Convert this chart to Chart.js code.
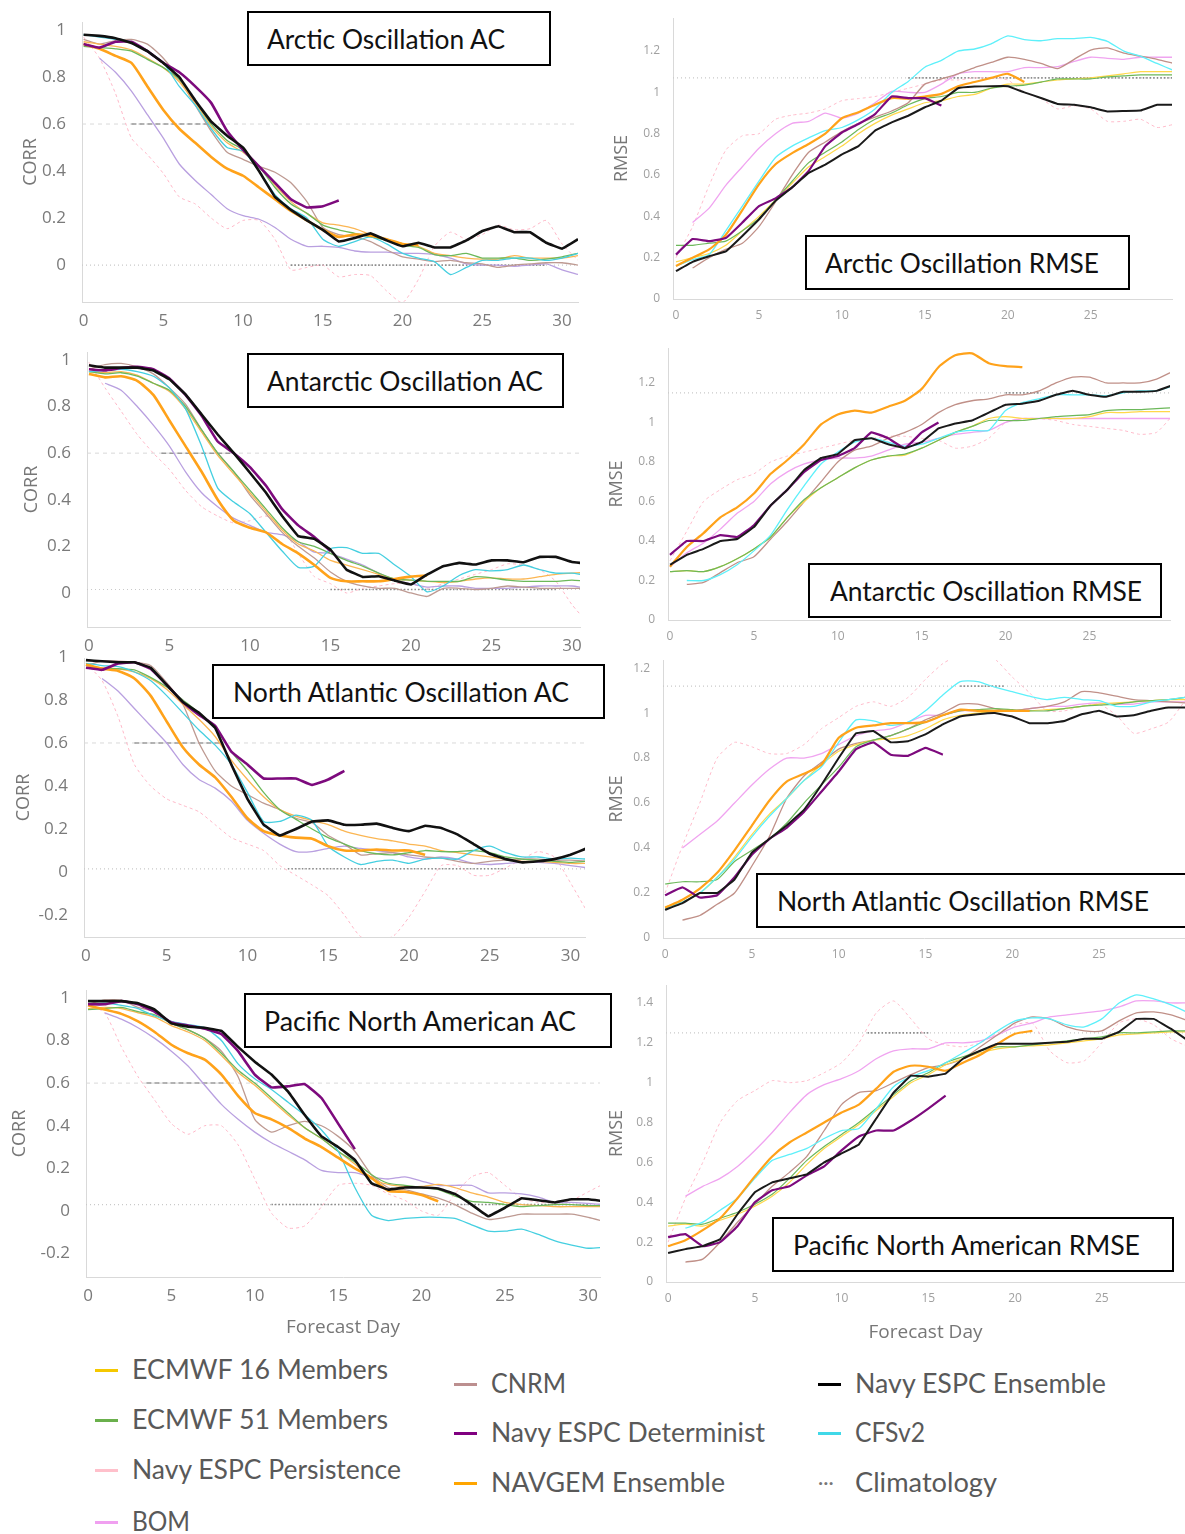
<!DOCTYPE html>
<html>
<head>
<meta charset="utf-8">
<script src="https://cdn.jsdelivr.net/npm/chart.js@4.4.1/dist/chart.umd.min.js"></script>
<style>
  body { margin: 0; background: #fff; width: 1185px; height: 1534px; overflow: hidden; position: relative; font-family: Lato, sans-serif; }
  canvas { position: absolute; }
  .tbox { position: absolute; border: 2px solid #000; background: #fff; box-sizing: border-box; z-index: 5; overflow: hidden; }
  .tbox span { position: absolute; top: 50%; font-size: 26px; color: #111; white-space: nowrap; transform-origin: left center; line-height: 1; margin-top: -13px; }
  .leg { position: absolute; font-size: 26px; color: #595959; white-space: nowrap; line-height: 1; margin-top: -14px; transform-origin: left center; }
  .mark { position: absolute; width: 23px; height: 3px; }
  .dots { position: absolute; font-size: 20px; color: #777; line-height: 1; }
</style>
</head>
<body>
<script>
// forecast days
const acDays = [0,1,2,3,4,5,6,7,8,9,10,11,12,13,14,15,16,17,18,19,20,21,22,23,24,25,26,27,28,29,30,31];
const rmDays = [0,1,2,3,4,5,6,7,8,9,10,11,12,13,14,15,16,17,18,19,20,21,22,23,24,25,26,27,28,29,30];
const acXTicks = [0,5,10,15,20,25,30];
const rmXTicks = [0,5,10,15,20,25];
const acYTicks = [0,0.2,0.4,0.6,0.8,1];
const acYTicksNeg = [-0.2,0,0.2,0.4,0.6,0.8,1];
const rmYTicks = [0,0.2,0.4,0.6,0.8,1,1.2];
const rmYTicksHi = [0,0.2,0.4,0.6,0.8,1,1.2,1.4];
const acSkill = 0.6;

// ---- Arctic Oscillation AC ----
const aoAcEns = [0.98,0.975,0.965,0.945,0.91,0.86,0.80,0.70,0.61,0.55,0.50,0.40,0.29,0.235,0.19,0.15,0.10,0.115,0.135,0.105,0.08,0.095,0.075,0.075,0.105,0.145,0.165,0.14,0.14,0.095,0.07,0.11];
const aoAcDet = [0.94,0.925,0.95,0.95,0.91,0.86,0.82,0.76,0.69,0.57,0.49,0.42,0.35,0.28,0.245,0.25,0.275];
const aoAcNavgem = [0.94,0.92,0.89,0.86,0.76,0.66,0.58,0.52,0.46,0.41,0.38,0.33,0.28,0.23,0.19,0.15,0.12,0.13,0.125,0.11,0.09,0.085];
const aoAcE16 = [0.95,0.94,0.93,0.915,0.88,0.84,0.78,0.69,0.59,0.52,0.48,0.42,0.34,0.27,0.22,0.18,0.17,0.155,0.13,0.11,0.09,0.08,0.05,0.04,0.03,0.025,0.025,0.04,0.03,0.03,0.03,0.04];
const aoAcE51 = [0.93,0.925,0.92,0.91,0.875,0.84,0.79,0.70,0.60,0.53,0.49,0.42,0.33,0.26,0.22,0.17,0.15,0.135,0.12,0.105,0.085,0.075,0.045,0.04,0.05,0.03,0.03,0.03,0.02,0.025,0.035,0.05];
const aoAcCfs = [0.98,0.97,0.96,0.95,0.91,0.86,0.76,0.68,0.58,0.50,0.485,0.40,0.30,0.24,0.20,0.11,0.08,0.10,0.12,0.09,0.05,0.03,0.015,-0.04,-0.01,0.02,0.02,0.03,0.03,0.02,0.03,0.05];
const aoAcCnrm = [0.96,0.94,0.955,0.96,0.94,0.88,0.79,0.68,0.57,0.48,0.45,0.42,0.395,0.35,0.27,0.16,0.13,0.12,0.10,0.065,0.035,0.025,0.015,0.02,0.01,0.005,-0.01,0.0,0.005,0.01,0.01,0.0];
const aoAcBom = [null,0.88,0.82,0.74,0.64,0.54,0.43,0.36,0.30,0.24,0.21,0.195,0.16,0.11,0.08,0.08,0.075,0.06,0.055,0.055,0.05,0.05,0.045,0.03,0.005,0.0,0.0,-0.005,0.0,0.005,-0.02,-0.04];
const aoAcPers = [0.97,0.88,0.73,0.54,0.47,0.39,0.29,0.26,0.20,0.155,0.19,0.19,0.11,-0.02,-0.01,0.0,-0.05,-0.04,-0.045,-0.11,-0.16,-0.06,0.08,0.14,0.11,0.13,0.17,0.15,0.155,0.19,0.09,0.02];
const aoAcClim = 0.0;
const aoAcClimDark = [13, 29];
const aoAcSkillDark = [3, 8];

// ---- Arctic Oscillation RMSE ----
const aoRmEns = [0.135,0.18,0.207,0.23,0.305,0.385,0.475,0.54,0.61,0.65,0.70,0.74,0.815,0.855,0.887,0.928,0.96,1.02,1.028,1.03,1.03,1.0,0.973,0.944,0.94,0.928,0.908,0.91,0.912,0.94,0.94];
const aoRmDet = [0.215,0.29,0.28,0.295,0.37,0.45,0.487,0.54,0.62,0.74,0.806,0.847,0.895,0.98,0.972,0.972,0.936];
const aoRmNavgem = [0.16,0.2,0.24,0.31,0.43,0.555,0.652,0.706,0.75,0.8,0.875,0.904,0.94,0.972,0.97,0.98,0.993,1.03,1.05,1.07,1.09,1.05];
const aoRmE16 = [0.18,0.2,0.22,0.26,0.33,0.4,0.48,0.56,0.64,0.69,0.74,0.8,0.85,0.89,0.92,0.95,0.96,0.98,0.99,1.02,1.04,1.04,1.05,1.06,1.065,1.07,1.08,1.09,1.1,1.1,1.1];
const aoRmE51 = [0.26,0.26,0.27,0.28,0.33,0.39,0.48,0.57,0.66,0.71,0.76,0.82,0.87,0.9,0.94,0.97,0.98,1.0,1.0,1.02,1.03,1.035,1.05,1.065,1.065,1.065,1.075,1.08,1.085,1.085,1.085];
const aoRmCfs = [0.16,0.19,0.215,0.33,0.45,0.57,0.685,0.74,0.78,0.815,0.83,0.868,0.92,1.0,1.053,1.122,1.155,1.2,1.21,1.235,1.273,1.255,1.25,1.26,1.26,1.266,1.247,1.2,1.175,1.14,1.106];
const aoRmCnrm = [null,0.15,0.2,0.24,0.27,0.35,0.47,0.6,0.71,0.76,0.81,0.85,0.88,0.91,0.95,1.04,1.065,1.09,1.12,1.145,1.17,1.16,1.14,1.115,1.16,1.205,1.215,1.19,1.175,1.16,1.14];
const aoRmBom = [null,0.37,0.44,0.55,0.64,0.73,0.8,0.85,0.86,0.9,0.875,0.9,0.95,1.005,1.0,1.0,1.04,1.09,1.1,1.1,1.1,1.12,1.12,1.125,1.15,1.17,1.165,1.16,1.17,1.17,1.17];
const aoRmPers = [0.2,0.35,0.55,0.72,0.79,0.8,0.87,0.89,0.9,0.92,0.96,0.97,0.98,1.0,1.02,1.04,1.06,1.06,1.07,1.07,1.06,1.0,0.97,0.92,0.935,0.92,0.86,0.86,0.87,0.83,0.845];
const aoRmClim = 1.07;
const aoRmClimDark = [14, 30];

// ---- Antarctic Oscillation AC ----
const aaoAcEns = [0.977,0.967,0.967,0.967,0.955,0.917,0.852,0.766,0.68,0.60,0.516,0.43,0.33,0.244,0.232,0.186,0.10,0.069,0.072,0.053,0.036,0.079,0.115,0.129,0.122,0.14,0.14,0.132,0.155,0.155,0.133,0.126];
const aaoAcDet = [0.96,0.955,0.965,0.97,0.96,0.92,0.85,0.76,0.65,0.60,0.54,0.46,0.36,0.29,0.24,0.18];
const aaoAcNavgem = [0.94,0.925,0.93,0.91,0.85,0.74,0.63,0.52,0.40,0.31,0.28,0.26,0.21,0.17,0.12,0.065,0.05,0.05,0.05,0.06,0.07,0.075];
const aaoAcE16 = [0.95,0.945,0.95,0.935,0.9,0.865,0.79,0.69,0.59,0.51,0.43,0.35,0.27,0.21,0.18,0.14,0.12,0.1,0.08,0.06,0.055,0.05,0.045,0.05,0.06,0.065,0.06,0.06,0.07,0.08,0.085,0.09];
const aaoAcE51 = [0.95,0.94,0.945,0.93,0.9,0.87,0.8,0.7,0.6,0.52,0.44,0.36,0.28,0.22,0.2,0.17,0.14,0.115,0.085,0.06,0.055,0.05,0.05,0.05,0.07,0.065,0.055,0.05,0.05,0.05,0.055,0.05];
const aaoAcCfs = [0.95,0.955,0.96,0.95,0.93,0.88,0.79,0.63,0.45,0.39,0.34,0.26,0.18,0.11,0.115,0.19,0.195,0.17,0.17,0.12,0.07,0.005,0.03,0.075,0.1,0.095,0.1,0.12,0.1,0.085,0.085,0.075];
const aaoAcCnrm = [0.96,0.98,0.985,0.97,0.94,0.88,0.81,0.7,0.6,0.52,0.42,0.34,0.26,0.2,0.15,0.09,0.05,0.03,0.02,0.02,0.0,-0.015,0.02,0.02,0.015,0.02,0.03,0.025,0.02,0.02,0.02,0.02];
const aaoAcBom = [null,0.9,0.87,0.8,0.72,0.63,0.52,0.43,0.37,0.32,0.29,0.26,0.25,0.22,0.175,0.17,0.145,0.12,0.085,0.055,0.04,0.025,0.03,0.03,0.02,0.02,0.02,0.025,0.03,0.03,0.03,0.02];
const aaoAcPers = [0.99,0.88,0.78,0.68,0.6,0.53,0.44,0.37,0.33,0.3,0.31,0.33,0.28,0.17,0.07,0.04,0.0,0.02,0.03,0.04,0.04,0.02,0.04,0.06,0.08,0.1,0.125,0.12,0.1,0.05,-0.05,-0.13];
const aaoAcClim = 0.015;
const aaoAcClimDark = [15, 29];
const aaoAcSkillDark = [4.5, 9];

// ---- Antarctic Oscillation RMSE ----
const aaoRmEns = [0.28,0.33,0.36,0.4,0.41,0.47,0.58,0.66,0.76,0.82,0.84,0.91,0.92,0.89,0.87,0.9,0.97,0.995,1.01,1.05,1.09,1.095,1.11,1.14,1.16,1.14,1.13,1.155,1.155,1.16,1.19];
const aaoRmDet = [0.33,0.4,0.4,0.43,0.42,0.48,0.58,0.66,0.75,0.81,0.83,0.87,0.95,0.92,0.87,0.95,1.0];
const aaoRmNavgem = [0.27,0.37,0.44,0.52,0.57,0.64,0.74,0.81,0.89,0.99,1.04,1.06,1.05,1.08,1.11,1.17,1.28,1.34,1.35,1.3,1.285,1.28];
const aaoRmE16 = [0.245,0.25,0.245,0.27,0.31,0.36,0.42,0.52,0.6,0.67,0.72,0.77,0.81,0.83,0.835,0.87,0.91,0.95,0.98,1.02,1.03,1.02,1.02,1.02,1.02,1.03,1.05,1.05,1.055,1.055,1.055];
const aaoRmE51 = [0.245,0.25,0.245,0.27,0.31,0.36,0.42,0.52,0.61,0.67,0.72,0.77,0.81,0.83,0.84,0.87,0.91,0.95,0.98,1.01,1.01,1.01,1.02,1.03,1.035,1.04,1.06,1.065,1.065,1.07,1.075];
const aaoRmCfs = [null,0.2,0.2,0.23,0.28,0.35,0.43,0.56,0.68,0.79,0.85,0.9,0.92,0.9,0.88,0.89,0.92,0.95,0.96,0.96,1.06,1.1,1.12,1.14,1.14,1.14,1.135,1.15,1.16,1.16,1.185];
const aaoRmCnrm = [null,0.18,0.19,0.24,0.29,0.32,0.41,0.5,0.6,0.7,0.8,0.86,0.88,0.92,0.95,0.99,1.05,1.09,1.11,1.12,1.14,1.14,1.16,1.2,1.23,1.23,1.2,1.2,1.2,1.22,1.26];
const aaoRmBom = [0.27,0.34,0.39,0.46,0.54,0.6,0.69,0.75,0.79,0.81,0.82,0.82,0.83,0.86,0.89,0.9,0.92,0.94,0.95,0.96,1.0,1.02,1.02,1.02,1.02,1.02,1.02,1.02,1.02,1.02,1.02];
const aaoRmPers = [0.3,0.45,0.6,0.66,0.71,0.74,0.8,0.83,0.85,0.87,0.89,0.91,0.92,0.93,0.93,0.92,0.91,0.87,0.88,0.92,1.0,1.02,1.02,1.01,0.99,0.98,0.97,0.96,0.94,0.95,1.04];
const aaoRmClim = 1.15;
const aaoRmClimDark = [20, 22];

// ---- North Atlantic Oscillation AC ----
const naoAcEns = [0.985,0.98,0.975,0.975,0.95,0.87,0.79,0.74,0.67,0.5,0.34,0.22,0.17,0.2,0.235,0.24,0.22,0.22,0.225,0.205,0.19,0.215,0.205,0.175,0.13,0.085,0.06,0.045,0.05,0.06,0.08,0.11];
const naoAcDet = [0.95,0.94,0.97,0.975,0.945,0.87,0.79,0.73,0.68,0.56,0.5,0.435,0.435,0.435,0.405,0.43,0.47];
const naoAcNavgem = [0.965,0.945,0.935,0.9,0.82,0.7,0.58,0.5,0.44,0.35,0.25,0.19,0.17,0.16,0.155,0.12,0.1,0.1,0.105,0.1,0.1,0.08];
const naoAcE16 = [0.96,0.95,0.945,0.93,0.9,0.85,0.78,0.71,0.63,0.52,0.43,0.35,0.29,0.26,0.24,0.22,0.19,0.17,0.155,0.145,0.13,0.12,0.1,0.09,0.08,0.07,0.06,0.05,0.05,0.045,0.04,0.04];
const naoAcE51 = [0.95,0.945,0.945,0.94,0.905,0.86,0.8,0.74,0.67,0.56,0.47,0.37,0.29,0.245,0.2,0.16,0.13,0.1,0.085,0.08,0.09,0.1,0.095,0.095,0.1,0.09,0.07,0.06,0.055,0.05,0.045,0.05];
const naoAcCfs = [0.97,0.96,0.955,0.93,0.89,0.82,0.74,0.66,0.59,0.5,0.37,0.235,0.235,0.265,0.24,0.12,0.07,0.035,0.05,0.055,0.04,0.06,0.065,0.06,0.1,0.12,0.09,0.07,0.07,0.06,0.065,0.06];
const naoAcCnrm = [0.96,0.98,0.98,0.975,0.96,0.88,0.78,0.6,0.47,0.4,0.36,0.32,0.29,0.25,0.23,0.17,0.13,0.08,0.085,0.09,0.08,0.07,0.065,0.05,0.04,0.05,0.055,0.06,0.06,0.055,0.055,0.05];
const naoAcBom = [null,0.9,0.84,0.76,0.68,0.6,0.5,0.43,0.39,0.33,0.24,0.18,0.13,0.095,0.095,0.11,0.12,0.11,0.1,0.09,0.07,0.06,0.07,0.06,0.04,0.035,0.04,0.045,0.045,0.04,0.03,0.02];
const naoAcPers = [0.97,0.89,0.72,0.5,0.4,0.34,0.31,0.28,0.22,0.16,0.13,0.1,0.03,-0.015,-0.06,-0.11,-0.2,-0.3,-0.31,-0.3,-0.21,-0.09,0.03,0.03,-0.015,-0.015,0.02,0.06,0.095,0.07,-0.05,-0.18];
const naoAcClim = 0.015;
const naoAcClimDark = [12.5, 26];
const naoAcSkillDark = [3, 8.5];

// ---- North Atlantic Oscillation RMSE ----
const naoRmEns = [0.125,0.155,0.2,0.2,0.26,0.38,0.44,0.5,0.57,0.68,0.8,0.91,0.92,0.87,0.875,0.905,0.95,0.985,0.995,1.0,0.985,0.955,0.955,0.965,0.995,1.01,0.985,0.99,1.01,1.025,1.025];
const naoRmDet = [0.19,0.225,0.18,0.19,0.27,0.37,0.44,0.49,0.56,0.65,0.74,0.84,0.87,0.815,0.81,0.845,0.815];
const naoRmNavgem = [0.135,0.17,0.22,0.29,0.39,0.5,0.61,0.695,0.73,0.77,0.89,0.935,0.945,0.955,0.955,0.96,0.99,1.015,1.01,1.01,1.01,1.01];
const naoRmE16 = [0.14,0.16,0.2,0.27,0.36,0.46,0.55,0.62,0.7,0.77,0.83,0.86,0.88,0.885,0.9,0.93,0.97,0.99,1.0,1.005,1.01,1.01,1.015,1.02,1.03,1.04,1.045,1.05,1.055,1.06,1.06];
const naoRmE51 = [0.24,0.25,0.25,0.26,0.34,0.39,0.44,0.51,0.6,0.68,0.76,0.85,0.88,0.9,0.93,0.96,0.99,1.01,1.015,1.02,1.015,1.01,1.01,1.02,1.03,1.035,1.04,1.05,1.055,1.06,1.07];
const naoRmCfs = [0.13,0.16,0.2,0.27,0.35,0.45,0.54,0.62,0.7,0.76,0.87,0.97,0.965,0.945,0.96,1.01,1.08,1.14,1.14,1.115,1.095,1.075,1.06,1.07,1.06,1.055,1.03,1.03,1.05,1.06,1.07];
const naoRmCnrm = [null,0.08,0.1,0.15,0.2,0.32,0.45,0.62,0.72,0.78,0.84,0.865,0.88,0.9,0.93,0.97,1.0,1.04,1.04,1.02,1.01,1.02,1.03,1.05,1.095,1.09,1.075,1.06,1.055,1.05,1.045];
const naoRmBom = [null,0.4,0.46,0.52,0.6,0.68,0.75,0.8,0.8,0.82,0.86,0.9,0.92,0.93,0.96,0.99,0.99,1.01,1.01,1.01,1.01,1.02,1.03,1.03,1.04,1.045,1.04,1.04,1.05,1.05,1.05];
const naoRmPers = [0.2,0.41,0.6,0.8,0.87,0.85,0.82,0.82,0.86,0.93,0.98,1.03,1.05,1.03,1.07,1.15,1.22,1.26,1.27,1.24,1.16,1.09,1.01,1.01,1.03,1.04,0.99,0.91,0.93,0.96,1.06];
const naoRmClim = 1.12;
const naoRmClimDark = [17, 19.5];

// ---- Pacific North American AC ----
const pnaAcEns = [0.985,0.985,0.985,0.975,0.945,0.88,0.865,0.86,0.845,0.77,0.7,0.64,0.56,0.45,0.35,0.3,0.24,0.13,0.1,0.11,0.11,0.105,0.08,0.03,-0.025,0.015,0.06,0.05,0.04,0.055,0.055,0.045];
const pnaAcDet = [0.97,0.97,0.985,0.97,0.935,0.885,0.87,0.855,0.83,0.75,0.64,0.58,0.585,0.595,0.53,0.41,0.29];
const pnaAcNavgem = [0.965,0.945,0.925,0.89,0.84,0.78,0.74,0.71,0.64,0.54,0.46,0.43,0.39,0.34,0.3,0.25,0.2,0.155,0.095,0.09,0.075,0.045];
const pnaAcE16 = [0.95,0.955,0.95,0.93,0.91,0.87,0.84,0.8,0.73,0.65,0.59,0.52,0.45,0.39,0.34,0.28,0.22,0.15,0.125,0.115,0.115,0.125,0.11,0.085,0.065,0.04,0.03,0.025,0.02,0.02,0.02,0.02];
const pnaAcE51 = [0.945,0.95,0.955,0.935,0.92,0.88,0.85,0.81,0.74,0.66,0.6,0.53,0.46,0.39,0.34,0.28,0.23,0.17,0.13,0.12,0.11,0.1,0.07,0.045,0.04,0.03,0.02,0.025,0.03,0.03,0.025,0.025];
const pnaAcCfs = [0.97,0.975,0.965,0.95,0.915,0.89,0.875,0.86,0.8,0.69,0.62,0.57,0.51,0.45,0.38,0.28,0.11,-0.02,-0.045,-0.035,-0.03,-0.03,-0.035,-0.065,-0.095,-0.095,-0.085,-0.11,-0.14,-0.16,-0.175,-0.17];
const pnaAcCnrm = [0.97,0.99,0.99,0.955,0.935,0.88,0.85,0.81,0.75,0.63,0.43,0.37,0.4,0.42,0.4,0.35,0.28,0.17,0.11,0.1,0.08,0.06,0.03,-0.01,-0.04,-0.03,-0.015,-0.015,-0.015,-0.015,-0.03,-0.05];
const pnaAcBom = [null,0.93,0.9,0.86,0.81,0.75,0.68,0.59,0.5,0.43,0.37,0.32,0.28,0.24,0.19,0.18,0.18,0.16,0.15,0.16,0.14,0.12,0.12,0.12,0.085,0.085,0.08,0.065,0.04,0.04,0.035,0.03];
const pnaAcPers = [0.97,0.93,0.77,0.63,0.52,0.41,0.36,0.4,0.4,0.31,0.15,-0.01,-0.08,-0.07,0.02,0.12,0.13,0.12,0.08,0.05,0.0,-0.02,0.08,0.16,0.18,0.12,0.06,0.04,0.04,0.05,0.09,0.13];
const pnaAcClim = 0.03;
const pnaAcClimDark = [11, 30];
const pnaAcSkillDark = [3.5, 8.5];

// ---- Pacific North American RMSE ----
const pnaRmEns = [0.145,0.165,0.18,0.215,0.34,0.45,0.5,0.52,0.54,0.6,0.645,0.69,0.82,0.95,1.035,1.03,1.045,1.12,1.16,1.195,1.195,1.195,1.2,1.205,1.22,1.22,1.255,1.32,1.32,1.27,1.21];
const pnaRmDet = [0.225,0.24,0.18,0.2,0.28,0.4,0.46,0.48,0.535,0.58,0.66,0.73,0.76,0.76,0.81,0.87,0.935];
const pnaRmNavgem = [0.18,0.21,0.26,0.32,0.42,0.53,0.63,0.7,0.75,0.8,0.85,0.89,0.97,1.055,1.085,1.08,1.06,1.1,1.14,1.195,1.245,1.26];
const pnaRmE16 = [0.28,0.29,0.28,0.31,0.34,0.38,0.43,0.5,0.59,0.67,0.73,0.79,0.86,0.93,1.0,1.04,1.09,1.12,1.15,1.17,1.18,1.185,1.19,1.2,1.21,1.22,1.24,1.245,1.25,1.255,1.255];
const pnaRmE51 = [0.295,0.295,0.29,0.32,0.35,0.39,0.44,0.52,0.61,0.68,0.74,0.8,0.87,0.94,1.01,1.05,1.1,1.13,1.16,1.18,1.18,1.19,1.2,1.21,1.22,1.23,1.25,1.25,1.255,1.26,1.26];
const pnaRmCfs = [null,0.27,0.3,0.36,0.42,0.52,0.61,0.64,0.67,0.72,0.76,0.77,0.87,0.98,1.03,1.06,1.1,1.15,1.2,1.26,1.31,1.325,1.32,1.29,1.28,1.32,1.4,1.44,1.42,1.39,1.35];
const pnaRmCnrm = [null,0.1,0.115,0.2,0.3,0.39,0.48,0.55,0.63,0.76,0.89,0.95,0.96,1.0,1.04,1.075,1.09,1.12,1.18,1.24,1.3,1.33,1.32,1.28,1.26,1.26,1.31,1.35,1.355,1.34,1.31];
const pnaRmBom = [null,0.43,0.48,0.52,0.58,0.66,0.75,0.85,0.94,0.99,1.02,1.06,1.12,1.16,1.17,1.17,1.2,1.2,1.21,1.24,1.28,1.3,1.33,1.34,1.35,1.36,1.38,1.41,1.41,1.4,1.4];
const pnaRmPers = [0.2,0.42,0.6,0.8,0.91,0.96,1.01,1.0,1.01,1.05,1.1,1.2,1.35,1.41,1.32,1.22,1.19,1.18,1.2,1.25,1.29,1.3,1.16,1.1,1.11,1.2,1.3,1.32,1.29,1.22,1.18];
const pnaRmClim = 1.25;
const pnaRmClimDark = [11.5, 15];

const seriesLabels = {
  ens: 'Navy ESPC Ensemble', det: 'Navy ESPC Determinist', navgem: 'NAVGEM Ensemble',
  cfs: 'CFSv2', e51: 'ECMWF 51 Members', e16: 'ECMWF 16 Members',
  cnrm: 'CNRM', bom: 'BOM', pers: 'Navy ESPC Persistence', clim: 'Climatology'
};

// [AC panels, RMSE panels]
const lineStyle = {
  ens:    { color: ['#111111', '#1a1a1a'], width: [2.6, 2.0], tension: 0.05 },
  det:    { color: ['#7d0a7d', '#7d0a7d'], width: [2.6, 2.2], tension: 0.1 },
  navgem: { color: ['#ffa21a', '#ffa21a'], width: [2.6, 2.2], tension: 0.2 },
  cfs:    { color: ['#45cfe0', '#5ef0fa'], width: [1.3, 1.3], tension: 0.2 },
  e51:    { color: ['#6cb85a', '#6cb85a'], width: [1.3, 1.2], tension: 0.2 },
  e16:    { color: ['#fbb653', '#ffd84a'], width: [1.3, 1.2], tension: 0.2 },
  cnrm:   { color: ['#be9a92', '#c09088'], width: [1.3, 1.3], tension: 0.2 },
  bom:    { color: ['#b9a0e0', '#f0a4f0'], width: [1.3, 1.3], tension: 0.2 },
  pers:   { color: ['#ffb8c8', '#ffbccb'], width: [1.0, 1.0], tension: 0.2, dash: [3, 3] }
};
const legendColor = {
  e16: '#f5c800', e51: '#6ab04c', pers: '#ffc0cb', bom: '#f0a0f0',
  cnrm: '#bc8f8f', det: '#800080', navgem: '#ffa500', ens: '#000', cfs: '#40d8e8'
};

const panels = [
  { kind: 'ac', L: 82,  R: 578,  T: 22,  B: 302,  W: 66, H: 30, xMin: -0.1,  xMax: 31,    yMin: -0.157, yMax: 1.034, yTicks: acYTicks,
    series: { ens: aoAcEns, det: aoAcDet, navgem: aoAcNavgem, cfs: aoAcCfs, e51: aoAcE51, e16: aoAcE16, cnrm: aoAcCnrm, bom: aoAcBom, pers: aoAcPers },
    clim: aoAcClim, climDark: aoAcClimDark, skillDark: aoAcSkillDark },
  { kind: 'rm', L: 673, R: 1172, T: 18,  B: 299,  W: 66, H: 30, xMin: -0.18, xMax: 29.9,  yMin: 0, yMax: 1.36, yTicks: rmYTicks,
    series: { ens: aoRmEns, det: aoRmDet, navgem: aoRmNavgem, cfs: aoRmCfs, e51: aoRmE51, e16: aoRmE16, cnrm: aoRmCnrm, bom: aoRmBom, pers: aoRmPers },
    clim: aoRmClim, climDark: aoRmClimDark },
  { kind: 'ac', L: 87,  R: 580,  T: 352, B: 627,  W: 70, H: 30, xMin: -0.12, xMax: 30.5,  yMin: -0.146, yMax: 1.034, yTicks: acYTicks,
    series: { ens: aaoAcEns, det: aaoAcDet, navgem: aaoAcNavgem, cfs: aaoAcCfs, e51: aaoAcE51, e16: aaoAcE16, cnrm: aaoAcCnrm, bom: aaoAcBom, pers: aaoAcPers },
    clim: aaoAcClim, climDark: aaoAcClimDark, skillDark: aaoAcSkillDark },
  { kind: 'rm', L: 668, R: 1170, T: 348, B: 620,  W: 66, H: 30, xMin: -0.12, xMax: 29.8,  yMin: 0, yMax: 1.377, yTicks: rmYTicks,
    series: { ens: aaoRmEns, det: aaoRmDet, navgem: aaoRmNavgem, cfs: aaoRmCfs, e51: aaoRmE51, e16: aaoRmE16, cnrm: aaoRmCnrm, bom: aaoRmBom, pers: aaoRmPers },
    clim: aaoRmClim, climDark: aaoRmClimDark },
  { kind: 'ac', L: 84,  R: 585,  T: 658, B: 937,  W: 75, H: 30, xMin: -0.12, xMax: 30.9,  yMin: -0.302, yMax: 0.995, yTicks: acYTicksNeg,
    series: { ens: naoAcEns, det: naoAcDet, navgem: naoAcNavgem, cfs: naoAcCfs, e51: naoAcE51, e16: naoAcE16, cnrm: naoAcCnrm, bom: naoAcBom, pers: naoAcPers },
    clim: naoAcClim, climDark: naoAcClimDark, skillDark: naoAcSkillDark },
  { kind: 'rm', L: 663, R: 1185, T: 660, B: 938,  W: 61, H: 30, xMin: -0.12, xMax: 29.95, yMin: 0, yMax: 1.236, yTicks: rmYTicks,
    series: { ens: naoRmEns, det: naoRmDet, navgem: naoRmNavgem, cfs: naoRmCfs, e51: naoRmE51, e16: naoRmE16, cnrm: naoRmCnrm, bom: naoRmBom, pers: naoRmPers },
    clim: naoRmClim, climDark: naoRmClimDark },
  { kind: 'ac', L: 86,  R: 600,  T: 990, B: 1277, W: 81, H: 62, xMin: -0.12, xMax: 30.7,  yMin: -0.31, yMax: 1.037, yTicks: acYTicksNeg,
    series: { ens: pnaAcEns, det: pnaAcDet, navgem: pnaAcNavgem, cfs: pnaAcCfs, e51: pnaAcE51, e16: pnaAcE16, cnrm: pnaAcCnrm, bom: pnaAcBom, pers: pnaAcPers },
    clim: pnaAcClim, climDark: pnaAcClimDark, skillDark: pnaAcSkillDark, xTitle: 'Forecast Day' },
  { kind: 'rm', L: 666, R: 1185, T: 985, B: 1282, W: 64, H: 62, xMin: -0.12, xMax: 29.8,  yMin: 0, yMax: 1.49, yTicks: rmYTicksHi,
    series: { ens: pnaRmEns, det: pnaRmDet, navgem: pnaRmNavgem, cfs: pnaRmCfs, e51: pnaRmE51, e16: pnaRmE16, cnrm: pnaRmCnrm, bom: pnaRmBom, pers: pnaRmPers },
    clim: pnaRmClim, climDark: pnaRmClimDark, xTitle: 'Forecast Day' }
];

const titleBoxes = [
  { text: 'Arctic Oscillation AC',           left: 247, top: 11,   width: 304, pad: 20, textW: 238 },
  { text: 'Arctic Oscillation RMSE',         left: 805, top: 235,  width: 325, pad: 20, textW: 274 },
  { text: 'Antarctic Oscillation AC',        left: 247, top: 353,  width: 317, pad: 20, textW: 276 },
  { text: 'Antarctic Oscillation RMSE',      left: 808, top: 563,  width: 354, pad: 22, textW: 312 },
  { text: 'North Atlantic Oscillation AC',   left: 212, top: 664,  width: 393, pad: 21, textW: 336 },
  { text: 'North Atlantic Oscillation RMSE', left: 756, top: 873,  width: 440, pad: 21, textW: 372 },
  { text: 'Pacific North American AC',       left: 244, top: 993,  width: 368, pad: 20, textW: 312 },
  { text: 'Pacific North American RMSE',     left: 772, top: 1217, width: 402, pad: 21, textW: 347 }
];

const legendLayout = [
  { key: 'e16',    x: 132, y: 1370, w: 256 },
  { key: 'e51',    x: 132, y: 1420, w: 256 },
  { key: 'pers',   x: 132, y: 1470, w: 269 },
  { key: 'bom',    x: 132, y: 1522, w: 58 },
  { key: 'cnrm',   x: 491, y: 1384, w: 75 },
  { key: 'det',    x: 491, y: 1433, w: 274 },
  { key: 'navgem', x: 491, y: 1483, w: 234 },
  { key: 'ens',    x: 855, y: 1384, w: 251 },
  { key: 'cfs',    x: 855, y: 1433, w: 70 },
  { key: 'clim',   x: 855, y: 1483, w: 142 }
];

const PAD_T = 12, PAD_R = 20;

function levelSet(y, x0, x1, color, dash, width) {
  return {
    data: [{ x: x0, y: y }, { x: x1, y: y }],
    borderColor: color, borderDash: dash, borderWidth: width,
    pointRadius: 0, tension: 0, fill: false
  };
}

function buildDatasets(p) {
  const k = p.kind === 'ac' ? 0 : 1;
  const sets = [];
  for (const key of Object.keys(p.series)) {
    const s = lineStyle[key];
    sets.push({
      label: seriesLabels[key],
      data: p.series[key],
      borderColor: s.color[k],
      borderWidth: s.width[k],
      borderDash: s.dash || [],
      tension: s.tension,
      pointRadius: 0,
      fill: false,
      spanGaps: false
    });
  }
  // climatology / reference lines
  sets.push(levelSet(p.clim, p.climDark[0], p.climDark[1], '#8c8c8c', [1.5, 2], 1.6));
  sets.push(levelSet(p.clim, p.xMin, p.xMax, '#c9c9c9', [1, 3], 1.2));
  if (p.kind === 'ac') {
    sets.push(levelSet(acSkill, p.skillDark[0], p.skillDark[1], '#9a9a9a', [5, 3], 1.5));
    sets.push(levelSet(acSkill, p.xMin, p.xMax, '#d9d9d9', [4, 4], 1));
  }
  return sets;
}

function makePanel(p) {
  const isAc = p.kind === 'ac';
  const canvas = document.createElement('canvas');
  const w = p.W + (p.R - p.L) + PAD_R;
  const h = PAD_T + (p.B - p.T) + p.H;
  canvas.width = w;
  canvas.height = h;
  canvas.style.left = (p.L - p.W) + 'px';
  canvas.style.top = (p.T - PAD_T) + 'px';
  document.body.appendChild(canvas);

  const tickFont = isAc ? { family: 'Open Sans', size: 17 } : { family: 'Open Sans', size: 12 };
  const tickColor = isAc ? '#7a7a7a' : '#a0a0a0';
  const xTicks = isAc ? acXTicks : rmXTicks;

  new Chart(canvas, {
    type: 'line',
    data: { labels: isAc ? acDays : rmDays, datasets: buildDatasets(p) },
    options: {
      responsive: false,
      animation: false,
      devicePixelRatio: 1,
      layout: { padding: { top: PAD_T, right: PAD_R, left: 0, bottom: 0 } },
      plugins: { legend: { display: false }, tooltip: { enabled: false } },
      scales: {
        x: {
          type: 'linear', min: p.xMin, max: p.xMax,
          grid: { display: false },
          border: { display: true, color: '#d9d9d9', width: 1 },
          ticks: { color: tickColor, font: tickFont, padding: 1, maxRotation: 0, autoSkip: false },
          title: p.xTitle
            ? { display: true, text: p.xTitle, color: '#777', font: { family: 'Open Sans', size: 19 }, padding: 0 }
            : { display: false },
          afterBuildTicks: ax => { ax.ticks = xTicks.map(v => ({ value: v })); },
          afterFit: ax => { ax.height = p.H; ax.paddingLeft = 0; ax.paddingRight = 0; }
        },
        y: {
          type: 'linear', min: p.yMin, max: p.yMax,
          grid: { display: false },
          border: { display: true, color: '#d9d9d9', width: 1 },
          ticks: { color: tickColor, font: tickFont, padding: isAc ? 8 : 5, autoSkip: false,
                   callback: v => String(+v.toFixed(2)) },
          title: { display: true, text: isAc ? 'CORR' : 'RMSE', color: '#777',
                   font: { family: 'Open Sans', size: 18 }, padding: { top: 4 } },
          afterBuildTicks: ax => { ax.ticks = p.yTicks.map(v => ({ value: v })); },
          afterFit: ax => { ax.width = p.W; ax.paddingTop = 0; ax.paddingBottom = 0; }
        }
      }
    }
  });
}

panels.forEach(makePanel);

// boxed panel titles
titleBoxes.forEach(t => {
  const box = document.createElement('div');
  box.className = 'tbox';
  Object.assign(box.style, { left: t.left + 'px', top: t.top + 'px', width: t.width + 'px', height: '55px' });
  const span = document.createElement('span');
  span.textContent = t.text;
  span.style.left = (t.pad - 2) + 'px';
  box.appendChild(span);
  document.body.appendChild(box);
  const mw = span.getBoundingClientRect().width;
  if (mw > 0) span.style.transform = `scaleX(${t.textW / mw})`;
});

// legend
legendLayout.forEach(item => {
  const txt = document.createElement('div');
  txt.className = 'leg';
  txt.textContent = seriesLabels[item.key];
  txt.style.left = item.x + 'px';
  txt.style.top = item.y + 'px';
  document.body.appendChild(txt);
  const mw = txt.getBoundingClientRect().width;
  if (mw > 0) txt.style.transform = `scaleX(${item.w / mw})`;

  if (item.key === 'clim') {
    const d = document.createElement('div');
    d.className = 'dots';
    d.textContent = '···';
    d.style.left = (item.x - 37) + 'px';
    d.style.top = (item.y - 12) + 'px';
    document.body.appendChild(d);
  } else {
    const m = document.createElement('div');
    m.className = 'mark';
    m.style.left = (item.x - 37) + 'px';
    m.style.top = (item.y - 1) + 'px';
    m.style.background = legendColor[item.key];
    document.body.appendChild(m);
  }
});
</script>
</body>
</html>
